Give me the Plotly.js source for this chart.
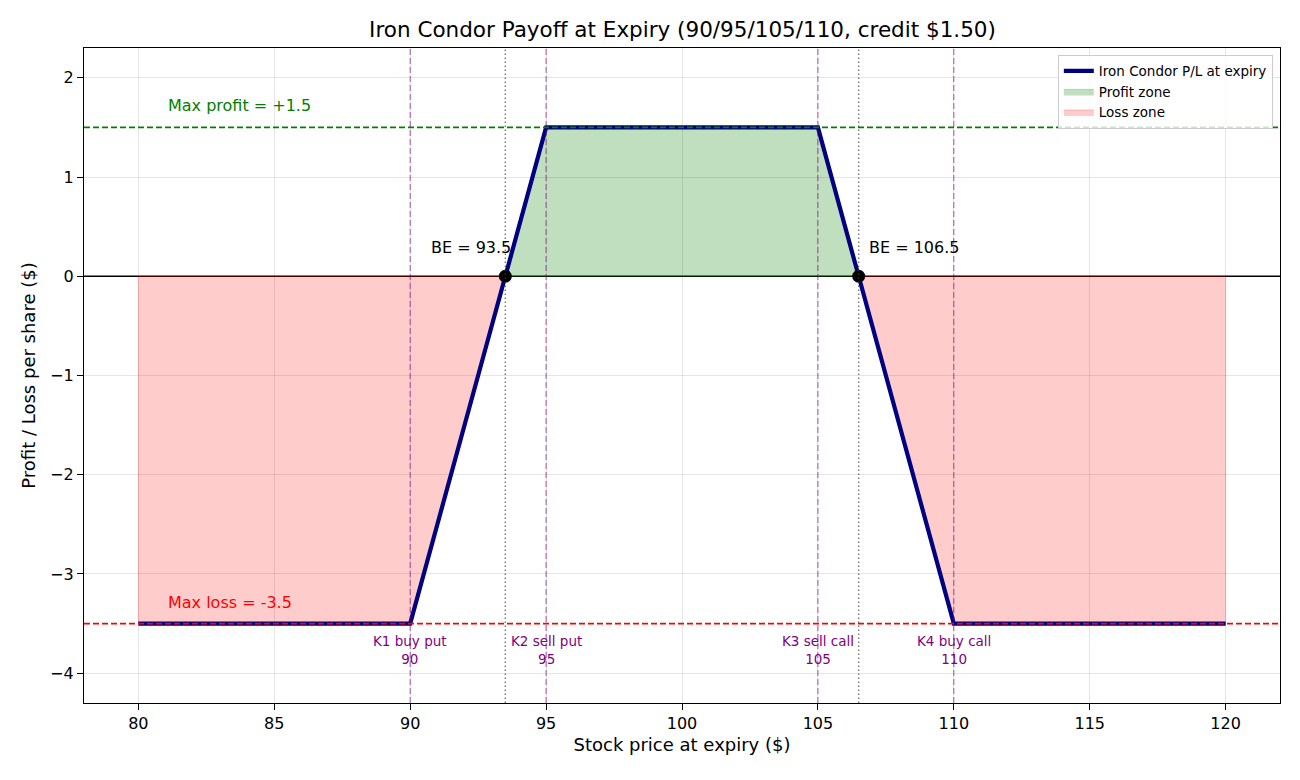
<!DOCTYPE html>
<html><head><meta charset="utf-8">
<script src="https://cdn.plot.ly/plotly-3.0.1.min.js"></script>
<style>body{margin:0;background:#fff}#c{width:1300px;height:780px}</style>
</head><body><div id="c"></div>
<script>
const prices = [80, 90, 95, 105, 110, 120];
const payoff = [-3.5, -3.5, 1.5, 1.5, -3.5, -3.5];
const strikes = [90, 95, 105, 110];
const strikeLabels = ["K1 buy put", "K2 sell put", "K3 sell call", "K4 buy call"];
const breakevens = [93.5, 106.5];
const maxProfit = 1.5;
const maxLoss = -3.5;

function payAt(x){
  for(let i=0;i<prices.length-1;i++){
    if(x>=prices[i] && x<=prices[i+1]){
      const t=(x-prices[i])/(prices[i+1]-prices[i]);
      return payoff[i]+t*(payoff[i+1]-payoff[i]);
    }
  }
  return 0;
}
function zone(x0,x1){
  const xs=[x0], ys=[payAt(x0)];
  prices.forEach((p,i)=>{ if(p>x0 && p<x1){xs.push(p);ys.push(payoff[i]);} });
  xs.push(x1); ys.push(payAt(x1));
  xs.push(x1, x0, x0); ys.push(0, 0, ys[0]);
  return {xs, ys};
}
const lossL = zone(prices[0], breakevens[0]);
const prof = zone(breakevens[0], breakevens[1]);
const lossR = zone(breakevens[1], prices[prices.length-1]);

const traces = [
  {x: prof.xs, y: prof.ys, type:'scatter', mode:'lines', fill:'toself', fillcolor:'rgba(0,128,0,0.25)',
   line:{color:'rgba(0,128,0,0.25)', width:1}, name:'Profit zone', legendrank:2, hoverinfo:'skip'},
  {x: lossL.xs, y: lossL.ys, type:'scatter', mode:'lines', fill:'toself', fillcolor:'rgba(255,0,0,0.2)',
   line:{color:'rgba(255,0,0,0.2)', width:1}, name:'Loss zone', legendgroup:'loss', legendrank:3, hoverinfo:'skip'},
  {x: lossR.xs, y: lossR.ys, type:'scatter', mode:'lines', fill:'toself', fillcolor:'rgba(255,0,0,0.2)',
   line:{color:'rgba(255,0,0,0.2)', width:1}, name:'Loss zone', legendgroup:'loss', showlegend:false, hoverinfo:'skip'},
  {x: prices, y: payoff, type:'scatter', mode:'lines', line:{color:'#000080', width:4.2},
   name:'Iron Condor P/L at expiry', legendrank:1},
  {x: breakevens, y: breakevens.map(()=>0), type:'scatter', mode:'markers',
   marker:{color:'black', size:13}, showlegend:false}
];

const shapes = [];
shapes.push({type:'line', xref:'paper', x0:0, x1:1, y0:0, y1:0, line:{color:'black', width:1.7}, layer:'below'});
shapes.push({type:'line', xref:'paper', x0:0, x1:1, y0:maxProfit, y1:maxProfit, line:{color:'green', width:1.6, dash:'6px,3px'}});
shapes.push({type:'line', xref:'paper', x0:0, x1:1, y0:maxLoss, y1:maxLoss, line:{color:'red', width:1.6, dash:'6px,3px'}});
strikes.forEach(k=>shapes.push({type:'line', yref:'paper', x0:k, x1:k, y0:0, y1:1,
  line:{color:'rgba(128,0,128,0.6)', width:1.1, dash:'6px,3px'}}));
breakevens.forEach(b=>shapes.push({type:'line', yref:'paper', x0:b, x1:b, y0:0, y1:1,
  line:{color:'rgba(60,60,60,0.7)', width:1.4, dash:'1.5px,2.5px'}}));

const annotations = [
  {x:81, y:1.72, text:'Max profit = +1.5', showarrow:false, xanchor:'left', yanchor:'middle', font:{color:'green', size:16}},
  {x:81, y:-3.29, text:'Max loss = -3.5', showarrow:false, xanchor:'left', yanchor:'middle', font:{color:'red', size:16}},
  {x:breakevens[0]+0.3, y:0.29, text:'BE = ' + breakevens[0], showarrow:false, xanchor:'right', yanchor:'middle', font:{color:'black', size:16}},
  {x:breakevens[1]+0.3, y:0.29, text:'BE = ' + breakevens[1], showarrow:false, xanchor:'left', yanchor:'middle', font:{color:'black', size:16}}
];
strikes.forEach((k,i)=>annotations.push({x:k, y:-3.77, text:strikeLabels[i]+'<br>'+k, showarrow:false,
  xanchor:'center', yanchor:'middle', align:'center', font:{color:'purple', size:13.5}}));

const layout = {
  width:1300, height:780,
  margin:{l:84, r:20, t:48, b:77},
  paper_bgcolor:'white', plot_bgcolor:'white',
  font:{family:'DejaVu Sans, sans-serif', color:'black', size:16},
  title:{text:'Iron Condor Payoff at Expiry (90/95/105/110, credit $1.50)', x:0.525, xanchor:'center', y:0.962, yanchor:'middle', font:{size:21.5}},
  xaxis:{range:[78,122], tickvals:[80,85,90,95,100,105,110,115,120], ticks:'outside', ticklen:6, tickcolor:'black',
    showgrid:true, gridcolor:'rgba(0,0,0,0.1)', zeroline:false, showline:true, linecolor:'black', linewidth:1.2, mirror:true,
    title:{text:'Stock price at expiry ($)', font:{size:18}, standoff:6}, tickfont:{size:16}},
  yaxis:{range:[-4.3,2.3], tickvals:[-4,-3,-2,-1,0,1,2], ticktext:['−4','−3','−2','−1','0','1','2'], ticks:'outside', ticklen:6, tickcolor:'black',
    showgrid:true, gridcolor:'rgba(0,0,0,0.1)', zeroline:false, showline:true, linecolor:'black', linewidth:1.2, mirror:true,
    title:{text:'Profit / Loss per share ($)', font:{size:18}, standoff:9}, tickfont:{size:16}},
  legend:{x:0.994, y:0.99, xanchor:'right', yanchor:'top', bgcolor:'rgba(255,255,255,0.8)', bordercolor:'#ccc', borderwidth:1,
    font:{size:13.5}, tracegroupgap:0, itemwidth:30},
  shapes, annotations, showlegend:true
};
Plotly.newPlot('c', traces, layout, {staticPlot:true});
</script></body></html>
